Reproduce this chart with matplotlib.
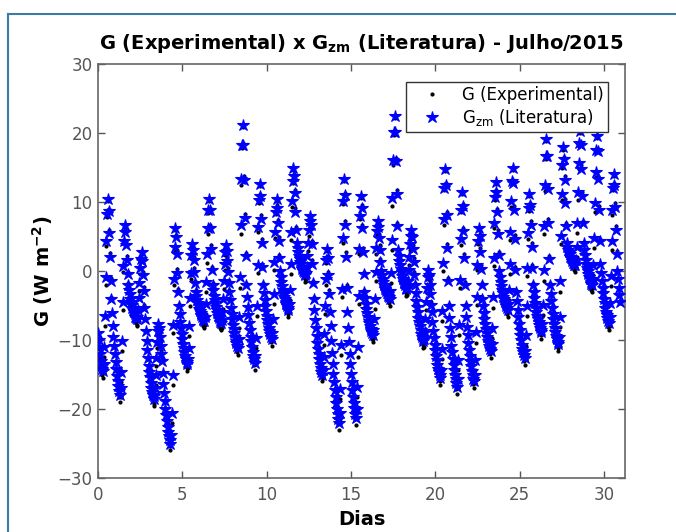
import numpy as np
import matplotlib
matplotlib.use("Agg")
import matplotlib.pyplot as plt
from matplotlib.lines import Line2D

# Hourly values, one row per day (h0..h23), W m-2
g_literatura = [
    [-9, -10, -11, -12, -13, -13.8, -14.2, -14.5, -13.5, -11.0, -6.5, -0.8, 4.4, 8.2, 10.4, 8.7, 5.5, 2.0, -1.4, -4, -6.1, -7.9, -9.5, -10.9],
    [-12.1, -13.2, -14.2, -15.2, -16.0, -16.7, -17.4, -18, -17.0, -14.6, -10.1, -4.5, 0.7, 4.4, 6.6, 5.6, 3.7, 1.6, -0.5, -2, -2.8, -3.4, -4.0, -4.5],
    [-4.9, -5.3, -5.7, -6.0, -6.3, -6.6, -6.8, -7, -6.6, -5.6, -3.9, -1.7, 0.4, 1.8, 2.7, 1.5, -0.6, -2.9, -5.3, -7, -8.7, -10.2, -11.5, -12.6],
    [-13.7, -14.6, -15.4, -16.2, -16.9, -17.5, -18.0, -18.5, -18.1, -17.0, -15.0, -12.6, -10.3, -8.7, -7.7, -8.3, -9.5, -10.8, -12.0, -13, -14.8, -16.4, -17.7, -18.9],
    [-20.0, -20.9, -21.8, -22.6, -23.3, -23.9, -24.5, -25, -23.7, -20.6, -15.0, -7.8, -1.2, 3.5, 6.3, 4.9, 2.5, -0.3, -3.0, -5, -6.3, -7.4, -8.3, -9.2],
    [-9.9, -10.6, -11.2, -11.8, -12.3, -12.7, -13.2, -13.5, -12.8, -11.1, -7.9, -3.9, -0.3, 2.3, 3.9, 3.1, 1.6, -0.1, -1.8, -3, -3.6, -4.2, -4.7, -5.1],
    [-5.5, -5.8, -6.1, -6.4, -6.7, -6.9, -7.1, -7.3, -6.6, -4.8, -1.6, 2.4, 6.2, 8.8, 10.4, 8.9, 6.2, 3.2, 0.2, -2, -2.8, -3.6, -4.2, -4.7],
    [-5.2, -5.7, -6.1, -6.5, -6.8, -7.1, -7.4, -7.6, -7.1, -6.0, -4.0, -1.4, 1.0, 2.7, 3.7, 2.9, 1.4, -0.2, -1.8, -3, -4.2, -5.3, -6.2, -7.0],
    [-7.8, -8.4, -9.0, -9.6, -10.1, -10.5, -10.9, -11.2, -9.9, -6.7, -0.9, 6.6, 13.3, 18.2, 21.1, 18.3, 13.2, 7.7, 2.2, -2, -3.7, -5.2, -6.4, -7.5],
    [-8.6, -9.5, -10.2, -11.0, -11.7, -12.3, -12.8, -13.3, -12.3, -9.7, -5.0, 0.9, 6.4, 10.3, 12.6, 10.8, 7.6, 4.1, 0.6, -2, -3.2, -4.2, -5.0, -5.8],
    [-6.5, -7.1, -7.7, -8.2, -8.7, -9.1, -9.5, -9.8, -9.0, -7.0, -3.3, 1.3, 5.6, 8.6, 10.4, 9.2, 6.9, 4.4, 1.9, 0, -0.8, -1.6, -2.2, -2.7],
    [-3.2, -3.7, -4.1, -4.5, -4.8, -5.1, -5.4, -5.6, -4.8, -2.7, 1.0, 5.7, 10.1, 13.1, 15, 13.7, 11.3, 8.6, 6.0, 4, 3.3, 2.7, 2.2, 1.7],
    [1.3, 1.0, 0.6, 0.3, 0.0, -0.2, -0.4, -0.6, -0.3, 0.6, 2.2, 4.1, 5.9, 7.2, 8, 6.6, 3.9, 1.0, -1.8, -4, -5.7, -7.1, -8.3, -9.4],
    [-10.4, -11.3, -12.0, -12.8, -13.5, -14.0, -14.6, -15, -14.3, -12.5, -9.2, -5.0, -1.2, 1.6, 3.2, 1.9, -0.6, -3.3, -6.0, -8, -10.1, -11.9, -13.5, -14.9],
    [-16.1, -17.2, -18.2, -19.2, -20.0, -20.7, -21.4, -22, -20.6, -17.1, -10.7, -2.6, 4.8, 10.1, 13.3, 11.0, 6.7, 2.1, -2.5, -6, -8.3, -10.3, -12.0, -13.5],
    [-14.9, -16.1, -17.2, -18.2, -19.2, -19.9, -20.7, -21.3, -20.0, -16.8, -11.0, -3.6, 3.2, 8.0, 10.9, 9.2, 6.2, 2.8, -0.5, -3, -3.9, -4.8, -5.5, -6.1],
    [-6.7, -7.2, -7.6, -8.0, -8.4, -8.7, -9.0, -9.3, -8.6, -7.0, -4.0, -0.2, 3.3, 5.8, 7.3, 6.4, 4.8, 3.1, 1.3, 0, -0.6, -1.1, -1.6, -2.0],
    [-2.3, -2.6, -2.9, -3.2, -3.4, -3.6, -3.8, -4, -2.9, -0.3, 4.5, 10.6, 16.1, 20.1, 22.5, 20.2, 15.9, 11.2, 6.5, 3, 2.2, 1.4, 0.8, 0.3],
    [-0.2, -0.7, -1.1, -1.5, -1.8, -2.1, -2.4, -2.6, -2.3, -1.4, 0.1, 2.1, 3.9, 5.1, 5.9, 5.0, 3.2, 1.3, -0.6, -2, -3.2, -4.3, -5.2, -6.0],
    [-6.8, -7.4, -8.0, -8.6, -9.1, -9.5, -9.9, -10.2, -9.8, -8.8, -6.9, -4.5, -2.4, -0.8, 0.1, -0.6, -2.0, -3.4, -4.9, -6, -7.4, -8.7, -9.7, -10.7],
    [-11.5, -12.3, -12.9, -13.6, -14.2, -14.6, -15.1, -15.5, -14.3, -11.3, -5.8, 1.2, 7.5, 12.1, 14.8, 12.4, 8.1, 3.3, -1.4, -5, -6.8, -8.3, -9.6, -10.8],
    [-11.8, -12.8, -13.6, -14.4, -15.1, -15.7, -16.3, -16.8, -15.7, -12.9, -7.8, -1.3, 4.6, 8.9, 11.4, 9.4, 5.8, 1.9, -2.0, -5, -6.7, -8.1, -9.3, -10.4],
    [-11.4, -12.3, -13.0, -13.8, -14.5, -15.0, -15.6, -16, -15.1, -12.9, -8.9, -3.7, 0.9, 4.3, 6.3, 5.1, 2.8, 0.3, -2.1, -4, -5.1, -6.1, -7.0, -7.7],
    [-8.4, -9.0, -9.5, -10.1, -10.5, -10.9, -11.3, -11.6, -10.6, -8.2, -3.8, 1.9, 7.0, 10.7, 12.9, 11.4, 8.5, 5.4, 2.3, 0, -0.8, -1.6, -2.2, -2.7],
    [-3.2, -3.7, -4.1, -4.5, -4.8, -5.1, -5.4, -5.6, -4.8, -2.7, 1.0, 5.7, 10.1, 13.1, 15, 12.8, 8.9, 4.6, 0.2, -3, -4.4, -5.7, -6.7, -7.7],
    [-8.6, -9.3, -10.0, -10.7, -11.3, -11.7, -12.2, -12.6, -11.6, -9.3, -5.0, 0.5, 5.5, 9.1, 11.2, 9.6, 6.7, 3.5, 0.4, -2, -3.0, -3.9, -4.7, -5.3],
    [-5.9, -6.5, -7.0, -7.4, -7.8, -8.2, -8.5, -8.8, -7.7, -4.9, 0.1, 6.5, 12.4, 16.6, 19.1, 16.6, 11.9, 6.9, 1.8, -2, -3.3, -4.4, -5.4, -6.2],
    [-7.0, -7.7, -8.3, -8.9, -9.4, -9.8, -10.3, -10.6, -9.5, -6.6, -1.5, 5.1, 11.1, 15.3, 17.9, 16.2, 13.2, 9.8, 6.5, 4, 3.5, 3.1, 2.8, 2.4],
    [2.1, 1.9, 1.7, 1.4, 1.2, 1.1, 0.9, 0.8, 1.6, 3.5, 7.0, 11.5, 15.6, 18.5, 20.3, 18.3, 14.8, 10.8, 6.9, 4, 3.1, 2.3, 1.6, 1.0],
    [0.5, 0.0, -0.5, -0.9, -1.2, -1.6, -1.9, -2.1, -1.2, 0.9, 4.8, 9.8, 14.4, 17.6, 19.6, 17.4, 13.3, 8.8, 4.3, 1, -0.3, -1.4, -2.4, -3.2],
    [-4.0, -4.7, -5.3, -5.9, -6.4, -6.8, -7.3, -7.6, -6.7, -4.6, -0.7, 4.3, 8.9, 12.1, 14.1, 12.4, 9.3, 5.9, 2.5, 0, -1.2, -2.4, -3.5, -4.5],
]

g_experimental = [
    [-9.1, -10.2, -11.3, -12.4, -13.5, -14.4, -15.0, -15.5, -14.7, -12.5, -8.0, -2.0, 3.6, 7.8, 10.1, 9.0, 6.0, 2.6, -1.0, -3.8, -6.1, -7.9, -9.5, -11.0],
    [-12.2, -13.4, -14.5, -15.6, -16.5, -17.3, -18.2, -19.0, -18.2, -16.1, -11.6, -5.7, -0.1, 4.0, 6.3, 5.9, 4.2, 2.2, -0.1, -1.8, -2.8, -3.4, -4.0, -4.6],
    [-5.0, -5.5, -6.0, -6.4, -6.8, -7.2, -7.6, -8.0, -7.8, -7.1, -5.4, -2.9, -0.4, 1.4, 2.4, 1.8, -0.1, -2.3, -4.9, -6.8, -8.7, -10.2, -11.5, -12.7],
    [-13.8, -14.8, -15.7, -16.6, -17.4, -18.1, -18.8, -19.5, -19.3, -18.5, -16.5, -13.8, -11.1, -9.1, -8.0, -8.0, -9.0, -10.2, -11.6, -12.8, -14.8, -16.4, -17.7, -19.0],
    [-20.1, -21.1, -22.1, -23.0, -23.8, -24.5, -25.3, -26.0, -24.9, -22.1, -16.5, -9.0, -2.0, 3.1, 6.0, 5.2, 3.0, 0.3, -2.6, -4.8, -6.3, -7.4, -8.3, -9.3],
    [-10.0, -10.8, -11.5, -12.2, -12.8, -13.3, -14.0, -14.5, -14.0, -12.6, -9.4, -5.1, -1.1, 1.9, 3.6, 3.4, 2.1, 0.5, -1.4, -2.8, -3.6, -4.2, -4.7, -5.2],
    [-5.6, -6.0, -6.4, -6.8, -7.2, -7.5, -7.9, -8.3, -7.8, -6.3, -3.1, 1.2, 5.4, 8.4, 10.1, 9.2, 6.7, 3.8, 0.6, -1.8, -2.8, -3.6, -4.2, -4.8],
    [-5.3, -5.9, -6.4, -6.9, -7.3, -7.7, -8.2, -8.6, -8.3, -7.5, -5.5, -2.6, 0.2, 2.3, 3.4, 3.2, 1.9, 0.4, -1.4, -2.8, -4.2, -5.3, -6.2, -7.1],
    [-7.9, -8.6, -9.3, -10.0, -10.6, -11.1, -11.7, -12.2, -11.1, -8.2, -2.4, 5.4, 12.5, 17.8, 20.8, 18.6, 13.7, 8.3, 2.6, -1.8, -3.7, -5.2, -6.4, -7.6],
    [-8.7, -9.7, -10.5, -11.4, -12.2, -12.9, -13.6, -14.3, -13.5, -11.2, -6.5, -0.3, 5.6, 9.9, 12.3, 11.1, 8.1, 4.7, 1.0, -1.8, -3.2, -4.2, -5.0, -5.9],
    [-6.6, -7.3, -8.0, -8.6, -9.2, -9.7, -10.3, -10.8, -10.2, -8.5, -4.8, 0.1, 4.8, 8.2, 10.1, 9.5, 7.4, 5.0, 2.3, 0.2, -0.8, -1.6, -2.2, -2.8],
    [-3.3, -3.9, -4.4, -4.9, -5.3, -5.7, -6.2, -6.6, -6.0, -4.2, -0.5, 4.5, 9.3, 12.7, 14.7, 14.0, 11.8, 9.2, 6.4, 4.2, 3.3, 2.7, 2.2, 1.6],
    [1.2, 0.8, 0.3, -0.1, -0.5, -0.8, -1.2, -1.6, -1.5, -0.9, 0.7, 2.9, 5.1, 6.8, 7.7, 6.9, 4.4, 1.6, -1.4, -3.8, -5.7, -7.1, -8.3, -9.5],
    [-10.5, -11.5, -12.3, -13.2, -14.0, -14.6, -15.4, -16.0, -15.5, -14.0, -10.7, -6.2, -2.0, 1.2, 2.9, 2.2, -0.1, -2.7, -5.6, -7.8, -10.1, -11.9, -13.5, -15.0],
    [-16.2, -17.4, -18.5, -19.6, -20.5, -21.3, -22.2, -23.0, -21.8, -18.6, -12.2, -3.8, 4.0, 9.7, 13.0, 11.3, 7.2, 2.7, -2.1, -5.8, -8.3, -10.3, -12.0, -13.6],
    [-15.0, -16.3, -17.5, -18.6, -19.7, -20.5, -21.5, -22.3, -21.2, -18.3, -12.5, -4.8, 2.4, 7.6, 10.6, 9.5, 6.7, 3.4, -0.1, -2.8, -3.9, -4.8, -5.5, -6.2],
    [-6.8, -7.4, -7.9, -8.4, -8.9, -9.3, -9.8, -10.3, -9.8, -8.5, -5.5, -1.4, 2.5, 5.4, 7.0, 6.7, 5.3, 3.7, 1.7, 0.2, -0.6, -1.1, -1.6, -2.1],
    [-2.4, -2.8, -3.2, -3.6, -3.9, -4.2, -4.6, -5.0, -4.1, -1.8, 3.0, 9.4, 15.3, 19.7, 22.2, 20.5, 16.4, 11.8, 6.9, 3.2, 2.2, 1.4, 0.8, 0.2],
    [-0.3, -0.9, -1.4, -1.9, -2.3, -2.7, -3.2, -3.6, -3.5, -2.9, -1.4, 0.9, 3.1, 4.7, 5.6, 5.3, 3.7, 1.9, -0.2, -1.8, -3.2, -4.3, -5.2, -6.1],
    [-6.9, -7.6, -8.3, -9.0, -9.6, -10.1, -10.7, -11.2, -11.0, -10.3, -8.4, -5.7, -3.2, -1.2, -0.2, -0.3, -1.5, -2.8, -4.5, -5.8, -7.4, -8.7, -9.7, -10.8],
    [-11.6, -12.5, -13.2, -14.0, -14.7, -15.2, -15.9, -16.5, -15.5, -12.8, -7.3, 0.0, 6.7, 11.7, 14.5, 12.7, 8.6, 3.9, -1.0, -4.8, -6.8, -8.3, -9.6, -10.9],
    [-11.9, -13.0, -13.9, -14.8, -15.6, -16.3, -17.1, -17.8, -16.9, -14.4, -9.3, -2.5, 3.8, 8.5, 11.1, 9.7, 6.3, 2.5, -1.6, -4.8, -6.7, -8.1, -9.3, -10.5],
    [-11.5, -12.5, -13.3, -14.2, -15.0, -15.6, -16.4, -17.0, -16.3, -14.4, -10.4, -4.9, 0.1, 3.9, 6.0, 5.4, 3.3, 0.9, -1.7, -3.8, -5.1, -6.1, -7.0, -7.8],
    [-8.5, -9.2, -9.8, -10.5, -11.0, -11.5, -12.1, -12.6, -11.8, -9.7, -5.3, 0.7, 6.2, 10.3, 12.6, 11.7, 9.0, 6.0, 2.7, 0.2, -0.8, -1.6, -2.2, -2.8],
    [-3.3, -3.9, -4.4, -4.9, -5.3, -5.7, -6.2, -6.6, -6.0, -4.2, -0.5, 4.5, 9.3, 12.7, 14.7, 13.1, 9.4, 5.2, 0.6, -2.8, -4.4, -5.7, -6.7, -7.8],
    [-8.7, -9.5, -10.3, -11.1, -11.8, -12.3, -13.0, -13.6, -12.8, -10.8, -6.5, -0.7, 4.7, 8.7, 10.9, 9.9, 7.2, 4.1, 0.8, -1.8, -3.0, -3.9, -4.7, -5.4],
    [-6.0, -6.7, -7.3, -7.8, -8.3, -8.8, -9.3, -9.8, -8.9, -6.4, -1.4, 5.3, 11.6, 16.2, 18.8, 16.9, 12.4, 7.5, 2.2, -1.8, -3.3, -4.4, -5.4, -6.3],
    [-7.1, -7.9, -8.6, -9.3, -9.9, -10.4, -11.1, -11.6, -10.7, -8.1, -3.0, 3.9, 10.3, 14.9, 17.6, 16.5, 13.7, 10.4, 6.9, 4.2, 3.5, 3.1, 2.8, 2.3],
    [2.0, 1.7, 1.4, 1.0, 0.7, 0.5, 0.1, -0.2, 0.4, 2.0, 5.5, 10.3, 14.8, 18.1, 20.0, 18.6, 15.3, 11.4, 7.3, 4.2, 3.1, 2.3, 1.6, 0.9],
    [0.4, -0.2, -0.8, -1.3, -1.7, -2.2, -2.7, -3.1, -2.4, -0.6, 3.3, 8.6, 13.6, 17.2, 19.3, 17.7, 13.8, 9.4, 4.7, 1.2, -0.3, -1.4, -2.4, -3.3],
    [-4.1, -4.9, -5.6, -6.3, -6.9, -7.4, -8.1, -8.6, -7.9, -6.1, -2.2, 3.1, 8.1, 11.7, 13.8, 12.7, 9.8, 6.5, 2.9, 0.2, -1.2, -2.4, -3.5, -4.6],
]

x_ticks = [0, 5, 10, 15, 20, 25, 30]
y_ticks = [-30, -20, -10, 0, 10, 20, 30]

titulo = r"G (Experimental) x G$_{\mathbf{zm}}$ (Literatura) - Julho/2015"
rotulo_x = "Dias"
rotulo_y = r"G (W m$^{\mathbf{-2}}$)"
leg_exp = "G (Experimental)"
leg_lit = r"G$_{\mathrm{zm}}$ (Literatura)"

lit = np.array(g_literatura, dtype=float).ravel()
exp_ = np.array(g_experimental, dtype=float).ravel()
t = np.arange(lit.size) / 24.0

plt.rcParams['font.family'] = ['DejaVu Sans']
plt.rcParams['mathtext.fontset'] = 'dejavusans'

fig = plt.figure(figsize=(6.76, 5.32), dpi=100)
ax = fig.add_axes([0.1450, 0.1015, 0.7796, 0.7782])

ax.plot(t, exp_, linestyle='none', marker='.', color='black', markersize=4, zorder=2,
        label=leg_exp)
ax.plot(t, lit, linestyle='none', marker='*', color=(0, 0, 1), markersize=9,
        markeredgewidth=0.8, zorder=3, label=leg_lit)

ax.set_xlim(0, 31.25)
ax.set_ylim(-30, 30)
ax.set_xticks(x_ticks)
ax.set_yticks(y_ticks)
ax.tick_params(direction='in', length=5, width=1, top=True, right=True,
               labelsize=12, colors='#555555', pad=6)
ax.tick_params(axis='y', pad=4)
for s in ax.spines.values():
    s.set_color('#666666')
    s.set_linewidth(1.2)

ax.set_title(titulo, fontsize=14, fontweight='bold', pad=11)
ax.set_xlabel(rotulo_x, fontsize=14, fontweight='bold', labelpad=4)
ax.set_ylabel(rotulo_y, fontsize=14, fontweight='bold', labelpad=2)

leg = ax.legend(loc='upper right', bbox_to_anchor=(0.968, 0.957), fontsize=12,
                frameon=True, fancybox=False, framealpha=1, edgecolor='#333333',
                borderpad=0.25, handletextpad=0.5, labelspacing=0.2,
                handlelength=2.6, borderaxespad=0)
leg.get_frame().set_linewidth(1.0)

# page frame lines
fig.add_artist(Line2D([0.0118, 0.0118], [0.0, 0.9737], color='#3a7ca5', linewidth=1.5))
fig.add_artist(Line2D([0.0118, 1.0], [0.9737, 0.9737], color='#3a7ca5', linewidth=1.5))

fig.savefig("out.png", dpi=100)
